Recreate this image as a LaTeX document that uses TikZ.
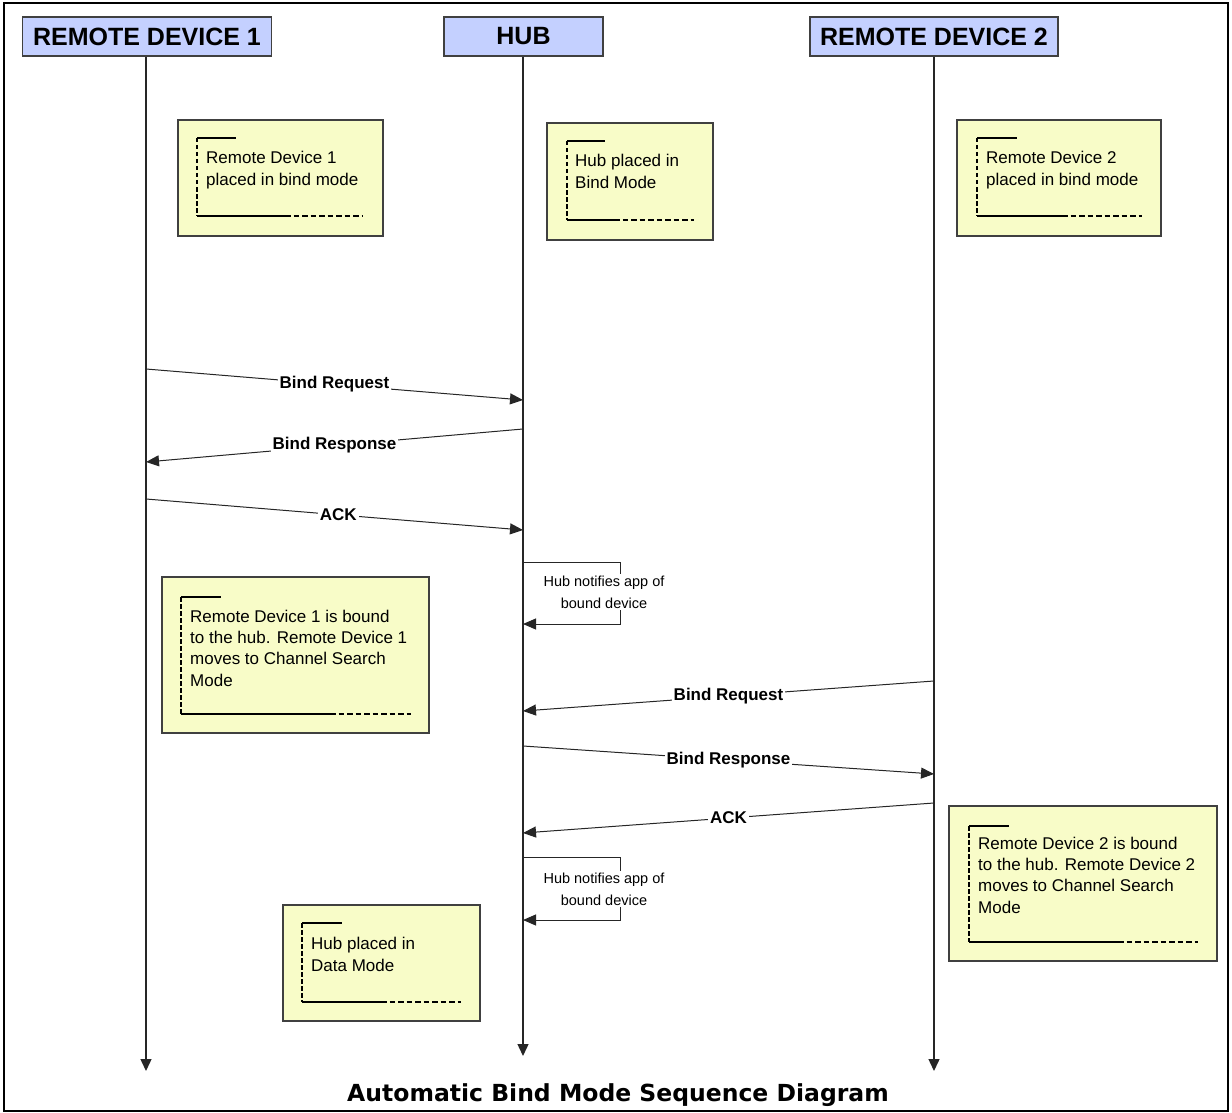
\documentclass[tikz,border=0pt]{standalone}
\usepackage{fontspec}
\setmainfont{Liberation Sans}
\newfontfamily\titlefont{DejaVu Sans}
\usetikzlibrary{arrows.meta}
\definecolor{hdrfill}{RGB}{196,208,255}
\definecolor{notefill}{RGB}{248,252,200}
\definecolor{edge}{RGB}{64,64,64}
\tikzset{
  x=1pt, y=-1pt,
  header/.style={draw=edge, line width=1.3pt, fill=hdrfill, minimum height=39pt, inner sep=0pt,
    font=\fontsize{25}{29}\selectfont\bfseries},
  notebox/.style={draw=edge, line width=1.2pt, fill=notefill, inner sep=0pt},
  notetext/.style={anchor=north west, inner sep=0pt, align=left, font=\fontsize{17}{22}\selectfont},
  lifeline/.style={draw=black!85, line width=1.4pt, -{Triangle[length=12pt,width=11pt]}},
  msg/.style={draw=black!85, line width=1pt, -{Triangle[length=13pt,width=11pt]}},
  msglabel/.style={fill=white, inner sep=2pt, font=\fontsize{17}{20}\selectfont\bfseries},
  selflabel/.style={fill=white, inner sep=2pt, align=center, font=\fontsize{14.5}{22}\selectfont},
  brdash/.style={line width=2.6pt, dash pattern=on 4.5pt off 2.5pt},
  brhdash/.style={line width=2.6pt, dash pattern=on 5.5pt off 3pt},
  brsolid/.style={line width=1.3pt},
  brtop/.style={line width=1.1pt},
}
\begin{document}
\begin{tikzpicture}
\useasboundingbox (0,0) rectangle (1232,1113);
\draw[line width=1.5pt] (4,3) rectangle (1228,1111);

% headers
\node[header, minimum width=249pt] (rd1) at (147,36.5) {REMOTE DEVICE 1};
\node[header, minimum width=159pt] (hub) at (523.5,36.5) {HUB};
\node[header, minimum width=248pt] (rd2) at (934,36.5) {REMOTE DEVICE 2};

% lifeline ends
\coordinate (e1) at (146,1071);
\coordinate (e2) at (523,1056);
\coordinate (e3) at (934,1071);
\draw[lifeline] (rd1.south -| e1) -- (e1);
\draw[lifeline] (hub.south -| e2) -- (e2);
\draw[lifeline] (rd2.south -| e3) -- (e3);

% notes: top row
\node[notebox, minimum width=205pt, minimum height=116pt] (n1) at (280.5,178) {};
\node[notetext] (t1) at (206,151) {Remote Device 1\\placed in bind mode};
\draw[brdash] (197,138) -- (197,216);
\draw[brtop] (197,138) -- (236,138);
\draw[brsolid] (197,216) -- (285,216);
\draw[brhdash] (285,216) -- (363,216);

\node[notebox, minimum width=166pt, minimum height=117pt] (n2) at (630,181.5) {};
\node[notetext] (t2) at (575,154) {Hub placed in\\Bind Mode};
\draw[brdash] (567,141) -- (567,220);
\draw[brtop] (567,141) -- (605,141);
\draw[brsolid] (567,220) -- (614,220);
\draw[brhdash] (614,220) -- (694,220);

\node[notebox, minimum width=204pt, minimum height=116pt] (n3) at (1059,178) {};
\node[notetext] (t3) at (986,151) {Remote Device 2\\placed in bind mode};
\draw[brdash] (977,138) -- (977,216);
\draw[brtop] (977,138) -- (1017,138);
\draw[brsolid] (977,216) -- (1062,216);
\draw[brhdash] (1062,216) -- (1142,216);

% messages, first exchange
\coordinate (a1) at (146,369); \coordinate (b1) at (523,400);
\draw[msg] (a1) -- node[msglabel] {Bind Request} (b1);
\coordinate (a2) at (523,429); \coordinate (b2) at (146,462);
\draw[msg] (a2) -- node[msglabel] {Bind Response} (b2);
\coordinate (a3) at (146,499); \coordinate (b3) at (523,530);
\draw[msg] (a3) -- node[msglabel, pos=0.51] {ACK} (b3);

% self message 1
\coordinate (s1a) at (523,562); \coordinate (s1b) at (620,562);
\coordinate (s1c) at (620,624); \coordinate (s1d) at (523,624);
\draw[msg] (s1a) -- (s1b) -- (s1c) -- (s1d);
\node[selflabel] (sl1) at (604,592) {Hub notifies app of\\bound device};

% note 4
\node[notebox, minimum width=267pt, minimum height=156pt] (n4) at (295.5,655) {};
\node[notetext, font=\fontsize{17}{21.2}\selectfont] (t4) at (190,610) {Remote Device 1 is bound\\to the hub. Remote Device 1\\moves to Channel Search\\Mode};
\draw[brdash] (181,597) -- (181,714);
\draw[brtop] (181,597) -- (221,597);
\draw[brsolid] (181,714) -- (330,714);
\draw[brhdash] (330,714) -- (411,714);

% messages, second exchange
\coordinate (a4) at (934,681); \coordinate (b4) at (523,711);
\draw[msg] (a4) -- node[msglabel] {Bind Request} (b4);
\coordinate (a5) at (523,746); \coordinate (b5) at (934,774);
\draw[msg] (a5) -- node[msglabel] {Bind Response} (b5);
\coordinate (a6) at (934,803); \coordinate (b6) at (523,833);
\draw[msg] (a6) -- node[msglabel] {ACK} (b6);

% self message 2
\coordinate (s2a) at (523,857); \coordinate (s2b) at (620,857);
\coordinate (s2c) at (620,920); \coordinate (s2d) at (523,920);
\draw[msg] (s2a) -- (s2b) -- (s2c) -- (s2d);
\node[selflabel] (sl2) at (604,889) {Hub notifies app of\\bound device};

% note 5
\node[notebox, minimum width=268pt, minimum height=155pt] (n5) at (1083,883.5) {};
\node[notetext, font=\fontsize{17}{21.2}\selectfont] (t5) at (978,837) {Remote Device 2 is bound\\to the hub. Remote Device 2\\moves to Channel Search\\Mode};
\draw[brdash] (969,826) -- (969,942);
\draw[brtop] (969,826) -- (1009,826);
\draw[brsolid] (969,942) -- (1118,942);
\draw[brhdash] (1118,942) -- (1198,942);

% note 6
\node[notebox, minimum width=197pt, minimum height=116pt] (n6) at (381.5,963) {};
\node[notetext] (t6) at (311,937) {Hub placed in\\Data Mode};
\draw[brdash] (302,923) -- (302,1002);
\draw[brtop] (302,923) -- (342,923);
\draw[brsolid] (302,1002) -- (381,1002);
\draw[brhdash] (381,1002) -- (461,1002);

% title
\node[font=\titlefont\fontsize{23.5}{28}\selectfont\bfseries, inner sep=0pt] (title) at (618,1095) {Automatic Bind Mode Sequence Diagram};
\end{tikzpicture}
\end{document}
